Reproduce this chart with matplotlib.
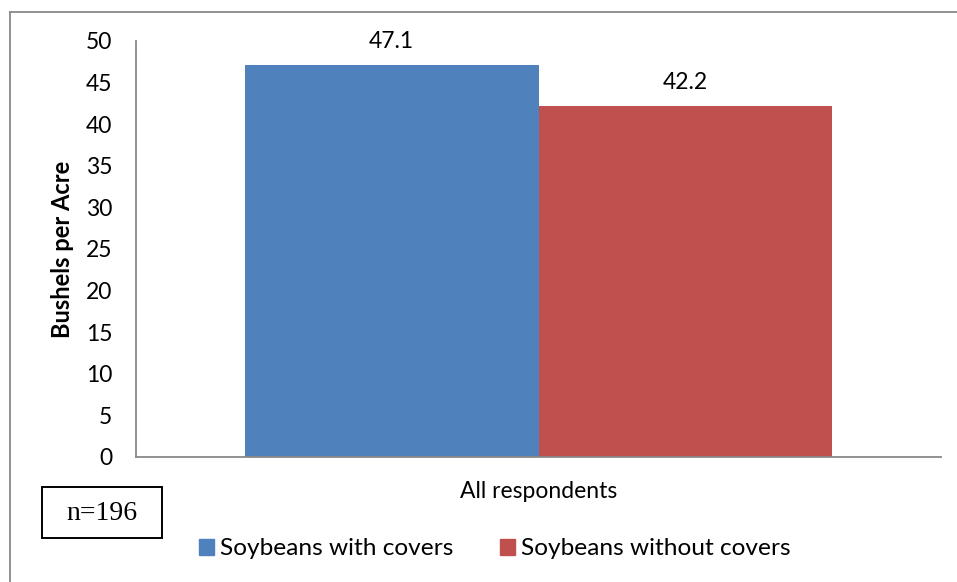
import matplotlib.pyplot as plt
from matplotlib.patches import Patch, Rectangle
from matplotlib.lines import Line2D

categories = ["All respondents"]
series_names = ["Soybeans with covers", "Soybeans without covers"]
with_covers = [47.1]
without_covers = [42.2]
y_ticks = [0, 5, 10, 15, 20, 25, 30, 35, 40, 45, 50]

plt.rcParams['font.family'] = ['Lato', 'DejaVu Sans']

fig = plt.figure(figsize=(9.57, 5.82), dpi=100)
ax = fig.add_axes([0.1421, 0.2148, 0.8412, 0.7148])

width = 0.365
x = [0]
b1 = ax.bar([i - width / 2 for i in x], with_covers, width, color='#4F81BD')
b2 = ax.bar([i + width / 2 for i in x], without_covers, width, color='#C0504D')

# value labels sit about 17 px above each bar
for bars, vals in ((b1, with_covers), (b2, without_covers)):
    for bar, v in zip(bars, vals):
        ax.annotate(f"{v:.1f}", (bar.get_x() + bar.get_width() / 2, v),
                    xytext=(0, 12.5), textcoords='offset points',
                    ha='center', va='baseline', fontsize=16.5)

ax.set_xlim(-0.5, 0.5)
ax.set_ylim(0, 50)
ax.set_yticks(y_ticks)
ax.set_xticks(x)
ax.set_xticklabels(categories)
ax.tick_params(axis='y', length=0, labelsize=16.5, pad=17)
ax.tick_params(axis='x', length=0, labelsize=16.5, pad=17)
ax.set_ylabel("Bushels per Acre", fontsize=17, fontweight='bold')
ax.yaxis.set_label_coords(-0.077, 0.5)

for side in ('top', 'right'):
    ax.spines[side].set_visible(False)
for side in ('left', 'bottom'):
    ax.spines[side].set_color('#898989')
    ax.spines[side].set_linewidth(1.3)

handles = [Patch(color='#4F81BD'), Patch(color='#C0504D')]
fig.legend(handles, series_names, loc='center', bbox_to_anchor=(0.517, 0.057),
           ncol=2, frameon=False, fontsize=17.6, handlelength=0.62, handleheight=0.62,
           handletextpad=0.25, columnspacing=1.9, borderpad=0, borderaxespad=0)

# n annotation box
fig.add_artist(Rectangle((42 / 957, 1 - 538 / 582), 120 / 957, 51 / 582,
                         transform=fig.transFigure, fc='white', ec='black', lw=1.4))
fig.text(102 / 957, 1 - 513 / 582, "n=196", ha='center', va='center',
         fontsize=20, family='Liberation Serif')

# chart frame (left and top edges visible)
fig.add_artist(Line2D([10 / 957, 10 / 957], [0, 1 - 12 / 582], color='#898989', lw=1.3))
fig.add_artist(Line2D([10 / 957, 1], [1 - 12 / 582, 1 - 12 / 582], color='#898989', lw=1.3))

fig.savefig('out.png', dpi=100)
